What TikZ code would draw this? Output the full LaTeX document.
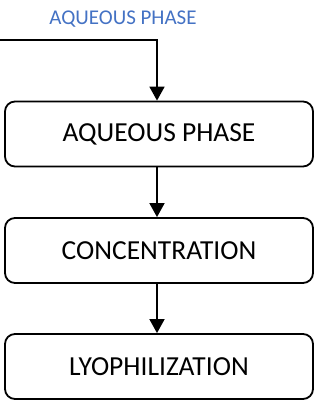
\documentclass[tikz,border=0pt]{standalone}
\usepackage{fontspec}
\setmainfont{Carlito}
\usepackage{tikz}
\usetikzlibrary{arrows.meta}
\usepackage{xcolor}
\definecolor{labelblue}{RGB}{68,114,196}

\tikzset{stepbox/.style={draw, line width=1.8pt, rounded corners=10pt, minimum width=308pt, minimum height=65pt, font=\fontsize{27.5}{30}\selectfont, inner sep=0pt}}

\begin{document}
\begin{tikzpicture}[x=1pt, y=-1pt, >={Triangle[length=14pt, width=15pt]}]
\useasboundingbox (0,0) rectangle (321,405);
\node[stepbox] (aq) at (159,134) {AQUEOUS PHASE};
\node[stepbox] (conc) at (159,250.5) {CONCENTRATION};
\node[stepbox] (lyo) at (159,366.5) {LYOPHILIZATION};
\node[text=labelblue, font=\fontsize{21}{24}\selectfont] (lbl) at (123,19) {AQUEOUS PHASE};
\coordinate (start) at (0,40);
\draw[line width=1.8pt, ->] (start) -| ([xshift=-2pt]aq.north);
\draw[line width=1.8pt, ->] ([xshift=-2pt]aq.south) -- ([xshift=-2pt]conc.north);
\draw[line width=1.8pt, ->] ([xshift=-2pt]conc.south) -- ([xshift=-2pt]lyo.north);
\end{tikzpicture}
\end{document}
